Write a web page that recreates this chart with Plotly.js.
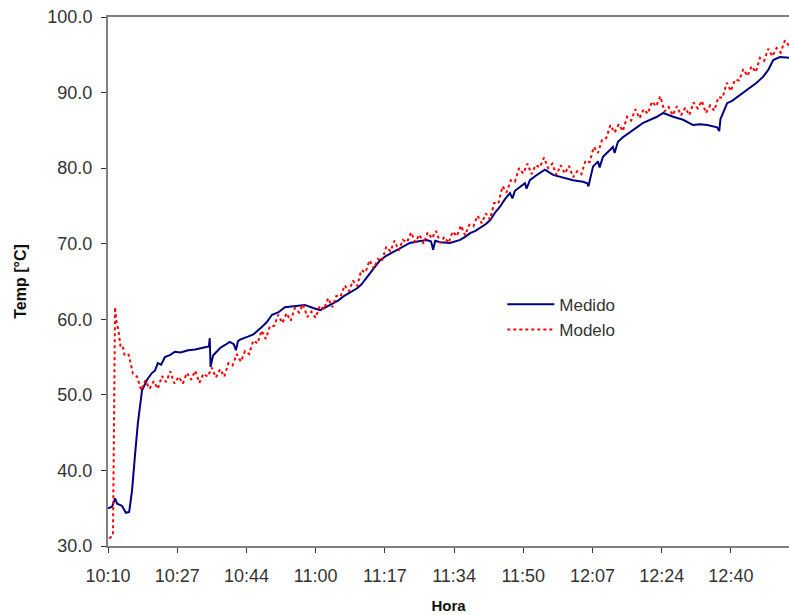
<!DOCTYPE html>
<html>
<head>
<meta charset="utf-8">
<script src="https://cdn.plot.ly/plotly-3.0.1.min.js"></script>
<style>html,body{margin:0;padding:0;background:#fff;}#chart{width:789px;height:615px;}</style>
</head>
<body>
<div id="chart"></div>
<script>
// Time axis: minutes after 10:10
const tickMinutes = [0, 16.667, 33.333, 50, 66.667, 83.333, 100, 116.667, 133.333, 150];
const tickLabels = ["10:10", "10:27", "10:44", "11:00", "11:17", "11:34", "11:50", "12:07", "12:24", "12:40"];
const yTicks = [30, 40, 50, 60, 70, 80, 90, 100];

// Medido (measured)
const medidoMin = [0, 1.0, 1.7, 2.2, 3.4, 4.3, 5.1, 5.8, 6.5, 7.2, 8.2, 9.4, 10.6, 11.3, 12.0, 12.8, 13.7, 15.0, 16.1, 17.5,
  19.3, 21.0, 23.4, 24.3, 24.5, 24.7, 25.3, 25.8, 27.0, 28.2, 29.3, 30.3, 30.8, 31.3, 31.8, 33.7, 35.0, 37.1, 38.2, 39.5,
  41.0, 42.6, 44.0, 45.8, 47.4, 49.4, 51.1, 52.5, 54.2, 55.5, 56.6, 58.2, 60.0, 61.0, 62.4, 63.8, 65.5, 67.0, 68.6, 70.5,
  72.7, 74.5, 76.8, 77.8, 78.3, 78.8, 80.0, 82.4, 84.8, 86.0, 87.2, 88.5, 89.6, 91.0, 92.0, 93.2, 94.4, 95.6, 96.8, 97.4,
  98.0, 99.2, 100.4, 100.8, 101.6, 103.0, 104.0, 105.2, 107.2, 109.6, 112.0, 114.4, 115.4, 115.7, 116.8, 118.0, 118.4, 119.2, 120.4, 121.6,
  122.0, 122.8, 124.0, 125.2, 126.4, 127.6, 128.9, 130.5, 132.2, 133.7, 135.0, 136.1, 138.5, 140.9, 142.5, 144.3, 146.7, 147.2, 147.5, 149.1,
  150.3, 151.5, 153.0, 154.6, 156.2, 157.8, 159.0, 160.2, 161.8, 164.0];
const medidoTemp = [35.0, 35.2, 36.3, 35.6, 35.3, 34.4, 34.5, 37.4, 42.0, 46.3, 50.6, 52.0, 52.9, 53.2, 54.2, 54.0, 55.0, 55.3, 55.7, 55.6,
  55.9, 56.0, 56.3, 56.4, 57.5, 53.7, 55.2, 55.5, 56.2, 56.6, 57.0, 56.7, 55.9, 57.1, 57.3, 57.7, 58.0, 59.0, 59.6, 60.6,
  60.9, 61.6, 61.7, 61.8, 61.9, 61.5, 61.2, 61.6, 62.1, 62.5, 63.0, 63.5, 64.1, 64.6, 65.6, 66.5, 67.8, 68.4, 68.9, 69.5,
  70.1, 70.3, 70.5, 70.3, 69.2, 70.4, 70.2, 70.1, 70.5, 70.9, 71.4, 71.7, 72.1, 72.6, 73.1, 74.1, 74.9, 75.9, 76.7, 76.0,
  77.0, 77.5, 78.0, 77.3, 78.4, 79.0, 79.4, 79.8, 79.1, 78.7, 78.4, 78.2, 78.0, 77.6, 80.2, 80.9, 80.1, 81.5, 82.1, 82.8,
  82.0, 83.5, 84.1, 84.6, 85.0, 85.5, 86.0, 86.4, 86.8, 87.3, 87.0, 86.8, 86.4, 85.7, 85.8, 85.7, 85.4, 84.9, 86.5, 88.6,
  88.9, 89.4, 90.0, 90.7, 91.3, 92.1, 93.0, 94.3, 94.7, 94.6];

// Modelo (model)
const modeloMin = [0.3, 1.2, 1.7, 2.0, 2.5, 3.0, 3.5, 4, 5, 6, 7, 8, 9, 10, 11, 12, 13, 14, 15, 16,
  17, 18, 19, 20, 21, 22, 23, 24, 25, 26, 27, 28, 29, 30, 31, 32, 33, 34, 35, 36,
  37, 38, 39, 40, 41, 42, 43, 44, 45, 46, 47, 48, 49, 50, 51, 52, 53, 54, 55, 56,
  57, 58, 59, 60, 61, 62, 63, 64, 65, 66, 67, 68, 69, 70, 71, 72, 73, 74, 75, 76,
  77, 78, 79, 80, 81, 82, 83, 84, 85, 86, 87, 88, 89, 90, 91, 92, 93, 94, 95, 96,
  97, 98, 99, 100, 101, 102, 103, 104, 105, 106, 107, 108, 109, 110, 111, 112, 113, 114, 115, 116,
  117, 118, 119, 120, 121, 122, 123, 124, 125, 126, 127, 128, 129, 130, 131, 132, 133, 134, 135, 136,
  137, 138, 139, 140, 141, 142, 143, 144, 145, 146, 147, 148, 149, 150, 151, 152, 153, 154, 155, 156,
  157, 158, 159, 160, 161, 162, 163, 164];
const modeloTemp = [31.0, 31.4, 61.6, 59.8, 58.6, 56.5, 56.6, 55.2, 55.3, 52.8, 52.4, 50.6, 51.9, 50.8, 51.8, 50.8, 52.5, 51.7, 53.1, 51.5,
  52.4, 51.5, 52.9, 52.0, 53.2, 51.6, 52.8, 52.4, 53.6, 52.3, 53.4, 52.4, 54.2, 53.9, 55.4, 54.4, 55.8, 55.4, 57.2, 56.8,
  58.5, 57.4, 59.1, 59.1, 60.6, 59.5, 60.8, 59.8, 61.5, 60.9, 62.0, 60.3, 61.0, 60.2, 61.8, 61.3, 62.8, 61.6, 63.1, 63.0,
  64.5, 63.7, 65.1, 64.4, 66.5, 66.2, 67.8, 66.7, 68.0, 67.7, 69.6, 69.0, 70.4, 69.1, 70.5, 70.2, 71.5, 70.2, 71.2, 70.0,
  71.5, 70.7, 71.7, 70.1, 70.9, 70.1, 71.6, 71.0, 72.4, 71.1, 72.5, 72.3, 73.7, 72.7, 74.0, 73.2, 75.4, 75.3, 77.6, 76.8,
  78.4, 78.2, 80.0, 79.3, 80.6, 79.2, 80.4, 80.1, 81.4, 80.0, 80.6, 79.1, 80.4, 79.3, 80.3, 78.8, 79.6, 79.2, 81.0, 80.8,
  82.8, 82.0, 83.8, 84.0, 85.7, 84.7, 85.8, 84.9, 86.8, 86.3, 87.8, 86.6, 87.8, 87.2, 88.8, 88.2, 89.5, 87.5, 88.1, 87.0,
  88.2, 87.0, 88.0, 87.0, 88.7, 87.9, 88.9, 87.3, 88.3, 87.6, 89.4, 89.3, 91.3, 90.2, 91.7, 91.6, 93.1, 92.2, 93.5, 92.7,
  94.6, 94.2, 95.8, 94.8, 95.9, 95.3, 96.9, 96.2];

const seriesNames = ["Medido", "Modelo"];
const axisTitles = {x: "Hora", y: "Temp [°C]"};

const FONT = "Liberation Sans, Arial, sans-serif";
const AXC = "#7f7f7f";

const traces = [
  {x: medidoMin, y: medidoTemp, name: seriesNames[0], type: "scatter", mode: "lines",
   line: {color: "#000080", width: 2}},
  {x: modeloMin, y: modeloTemp, name: seriesNames[1], type: "scatter", mode: "lines",
   line: {color: "#ff0000", width: 2, dash: "dot"}}
];

const layout = {
  width: 789, height: 615,
  margin: {l: 108, r: 0, t: 17, b: 69},
  paper_bgcolor: "#ffffff", plot_bgcolor: "#ffffff",
  font: {family: FONT, size: 18, color: "#333333"},
  showlegend: true,
  legend: {x: 0.579, y: 0.49, xanchor: "left", yanchor: "top", bgcolor: "rgba(0,0,0,0)",
           itemwidth: 47,
           font: {family: FONT, size: 17, color: "#333333"}, tracegroupgap: 0},
  xaxis: {
    range: [0, 164], tickvals: tickMinutes, ticktext: tickLabels,
    showgrid: false, zeroline: false, showline: true, linecolor: AXC, linewidth: 2, mirror: true,
    ticks: "outside", ticklen: 5, tickwidth: 1, tickcolor: "#333333", ticklabelstandoff: 7,
    tickfont: {family: FONT, size: 18, color: "#333333"},
    title: {text: "<b>" + axisTitles.x + "</b>", font: {family: FONT, size: 15, color: "#111111"}, standoff: 16},
    fixedrange: true
  },
  yaxis: {
    range: [30, 100], tickvals: yTicks, tickformat: ".1f",
    showgrid: false, zeroline: false, showline: true, linecolor: AXC, linewidth: 2,
    ticks: "outside", ticklen: 5, tickwidth: 1, tickcolor: "#333333", ticklabelstandoff: 5,
    tickfont: {family: FONT, size: 18, color: "#333333"},
    title: {text: "<b>" + axisTitles.y + "</b>", font: {family: FONT, size: 16, color: "#111111"}, standoff: 17},
    fixedrange: true
  }
};

Plotly.newPlot("chart", traces, layout, {displayModeBar: false, staticPlot: true});
</script>
</body>
</html>
